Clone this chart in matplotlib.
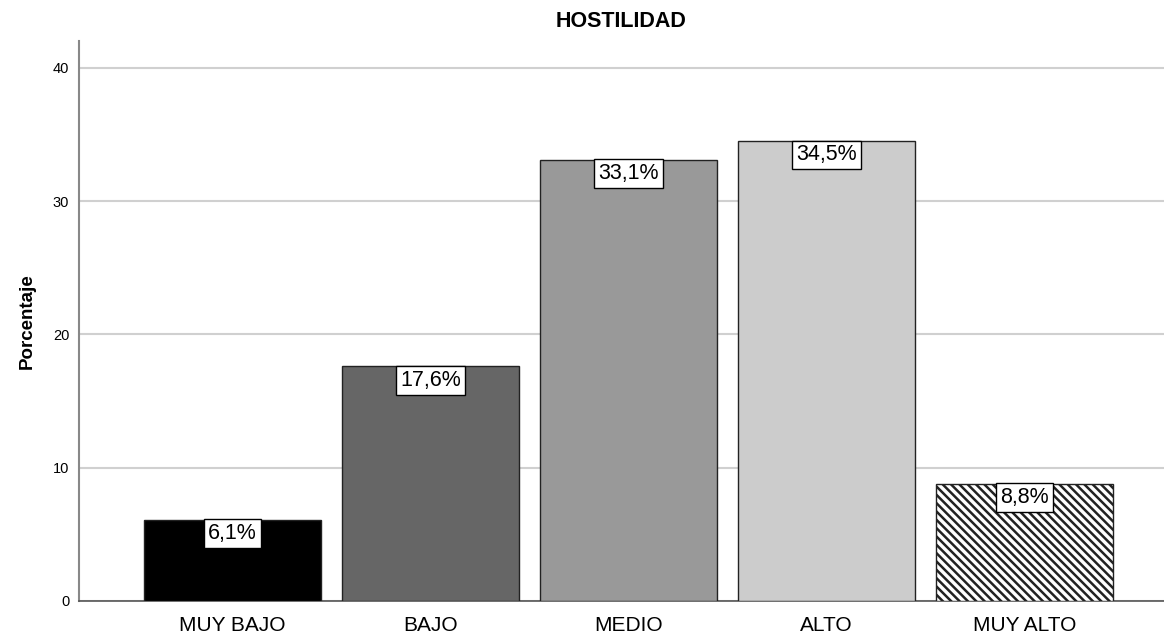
import matplotlib
matplotlib.use("Agg")
import matplotlib.pyplot as plt

# datos del grafico
categorias = ['MUY BAJO', 'BAJO', 'MEDIO', 'ALTO', 'MUY ALTO']
porcentajes = [6.1, 17.6, 33.1, 34.5, 8.8]
etiquetas = ['6,1%', '17,6%', '33,1%', '34,5%', '8,8%']
colores = ['#000000', '#666666', '#999999', '#cccccc', '#ffffff']
tramas = ['', '', '', '', '\\\\\\\\']

plt.rcParams['font.family'] = ['Liberation Sans', 'DejaVu Sans']
plt.rcParams['hatch.linewidth'] = 1.8

fig = plt.figure(figsize=(11.64, 6.35), dpi=100)
ax = fig.add_axes([79 / 1164, 34 / 635, 1 - 79 / 1164, (601 - 41) / 635])

x = range(len(categorias))
for i in x:
    ax.bar(i, porcentajes[i], width=0.894, color=colores[i], edgecolor='#222222',
           linewidth=1.0, hatch=tramas[i], zorder=3)
    ax.annotate(etiquetas[i], (i, porcentajes[i]), xytext=(0, -2.5), textcoords='offset points',
                ha='center', va='top', fontsize=15.5, zorder=5,
                bbox=dict(boxstyle='square,pad=0.18', fc='white', ec='black', lw=1.0))

ax.set_xlim(-0.775, 4.705)
ax.set_ylim(0, 42)
ax.set_yticks([0, 10, 20, 30, 40])
ax.set_xticks(list(x))
ax.set_xticklabels(categorias, fontsize=15)
ax.tick_params(axis='y', length=0, pad=7, labelsize=10.5)
ax.tick_params(axis='x', length=0, pad=11)
ax.yaxis.grid(True, color='#d0d0d0', linewidth=1.5, zorder=0)
ax.set_axisbelow(True)

for s in ['top', 'right']:
    ax.spines[s].set_visible(False)
ax.spines['left'].set_color('#888888')
ax.spines['left'].set_linewidth(1.5)
ax.spines['bottom'].set_color('#555555')
ax.spines['bottom'].set_linewidth(1.2)

ax.set_ylabel('Porcentaje', fontsize=13.5, fontweight='bold', labelpad=12)
ax.set_title('HOSTILIDAD', fontsize=15.5, fontweight='bold', pad=10)

fig.savefig('out.png', dpi=100)
